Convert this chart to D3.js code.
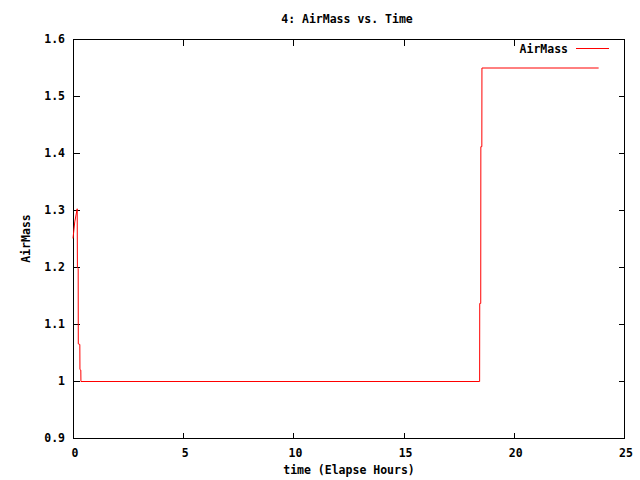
<!DOCTYPE html>
<html lang="en">
<head>
<meta charset="utf-8">
<title>AirMass vs. Time</title>
<script src="https://cdn.jsdelivr.net/npm/d3@7"></script>
<style>
  html, body { margin: 0; padding: 0; background: white; }
  text { font-family: "DejaVu Sans Mono", monospace; font-weight: bold; font-size: 11.5px; fill: black; }
</style>
</head>
<body>
<script>
// data: elapsed hours and air mass
var hours   = [0.00, 0.08, 0.19, 0.20, 0.235, 0.24, 0.31, 0.315, 0.355, 0.36, 18.45, 18.455, 18.50, 18.505, 18.55, 18.555, 23.85];
var airMass = [1.251, 1.28, 1.303, 1.20, 1.198, 1.066, 1.065, 1.021, 1.02, 1.0, 1.0, 1.137, 1.137, 1.412, 1.412, 1.55, 1.55];

var xTicks = [0, 5, 10, 15, 20, 25];
var yTicks = [0.9, 1.0, 1.1, 1.2, 1.3, 1.4, 1.5, 1.6];

var w = 640, h = 480;
var pLeft = 73, pRight = 624, pTop = 39, pBottom = 438;

var svg = d3.select("body").append("svg")
  .attr("width", w).attr("height", h);

var x = d3.scaleLinear().domain([0, 25]).range([pLeft, pRight]);
var y = d3.scaleLinear().domain([0.9, 1.6]).range([pBottom, pTop]);

// frame
svg.append("rect")
  .attr("x", pLeft + 0.5).attr("y", pTop + 0.5)
  .attr("width", pRight - pLeft).attr("height", pBottom - pTop)
  .attr("fill", "none").attr("stroke", "black").attr("stroke-width", 1)
  .attr("shape-rendering", "crispEdges");

// ticks (gnuplot style: inward, mirrored)
var tl = 6;
function px(v) { return Math.round(v) + 0.5; }
var ticks = svg.append("g").attr("stroke", "black").attr("shape-rendering", "crispEdges");
ticks.selectAll("line.xt").data(xTicks).enter().append("line")
  .attr("x1", function(d) { return px(x(d)); })
  .attr("x2", function(d) { return px(x(d)); })
  .attr("y1", pBottom + 0.5).attr("y2", pBottom + 0.5 - tl);
ticks.selectAll("line.xt2").data(xTicks).enter().append("line")
  .attr("x1", function(d) { return px(x(d)); })
  .attr("x2", function(d) { return px(x(d)); })
  .attr("y1", pTop + 0.5).attr("y2", pTop + 0.5 + tl);
ticks.selectAll("line.yt").data(yTicks).enter().append("line")
  .attr("y1", function(d) { return px(y(d)); })
  .attr("y2", function(d) { return px(y(d)); })
  .attr("x1", pLeft + 0.5).attr("x2", pLeft + 0.5 + tl);
ticks.selectAll("line.yt2").data(yTicks).enter().append("line")
  .attr("y1", function(d) { return px(y(d)); })
  .attr("y2", function(d) { return px(y(d)); })
  .attr("x1", pRight + 0.5).attr("x2", pRight + 0.5 - tl);

// tick labels
svg.selectAll("text.xl").data(xTicks).enter().append("text")
  .attr("x", function(d) { return x(d) + 2; })
  .attr("y", pBottom + 19)
  .attr("text-anchor", "middle")
  .text(function(d) { return d; });
svg.selectAll("text.yl").data(yTicks).enter().append("text")
  .attr("x", pLeft - 8)
  .attr("y", function(d) { return y(d) + 4; })
  .attr("text-anchor", "end")
  .text(function(d) { return d === 1 ? "1" : d3.format(".1f")(d); });

// titles
svg.append("text").attr("x", 347).attr("y", 23).attr("text-anchor", "middle")
  .text("4: AirMass vs. Time");
svg.append("text").attr("x", 349).attr("y", 474).attr("text-anchor", "middle")
  .text("time (Elapse Hours)");
svg.append("text")
  .attr("transform", "translate(30," + ((pTop + pBottom) / 2) + ") rotate(-90)")
  .attr("text-anchor", "middle")
  .text("AirMass");

// series
var pts = hours.map(function(d, i) { return [d, airMass[i]]; });
var line = d3.line()
  .x(function(d) { return x(d[0]); })
  .y(function(d) { return y(d[1]) + 0.5; });
svg.append("path")
  .datum(pts)
  .attr("d", line)
  .attr("fill", "none")
  .attr("stroke", "#ff0000")
  .attr("stroke-width", 1);

// legend
svg.append("text").attr("x", 568).attr("y", 53).attr("text-anchor", "end")
  .text("AirMass");
svg.append("line")
  .attr("x1", 576).attr("x2", 609).attr("y1", 48.5).attr("y2", 48.5)
  .attr("stroke", "#ff0000").attr("shape-rendering", "crispEdges");
</script>
</body>
</html>
